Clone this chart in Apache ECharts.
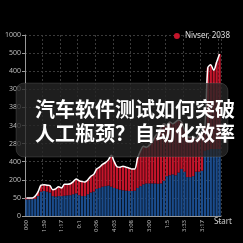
<!DOCTYPE html>
<html>
<head>
<meta charset="utf-8">
<script src="https://cdn.jsdelivr.net/npm/echarts@6/dist/echarts.min.js"></script>
<style>
  html, body { margin: 0; padding: 0; background: #000; }
  #chart { width: 243px; height: 243px; }
</style>
</head>
<body>
<div id="chart"></div>
<script>
// values are in grid steps (one step per y tick)
var blueValues = [
  0.92, 0.92, 0.93, 0.95, 1.1, 1.35, 1.38, 1.35, 1.3, 1.1,
  1.07, 1.1, 1.1, 1.12, 1.14, 1.15, 1.2, 1.25, 1.15, 1.1,
  1.1, 1.2, 1.3, 1.35, 1.5, 1.55, 1.62, 1.65, 1.68, 1.62,
  1.55, 1.5, 1.45, 1.42, 1.4, 1.38, 1.38, 1.4, 1.55, 1.65,
  1.75, 1.8, 1.8, 1.8, 1.8, 1.78, 1.8, 1.95, 2.2, 2.25,
  2.3, 2.25, 2.4, 2.6, 2.45, 2.15, 2.15, 2.2, 2.45, 2.45,
  2.5, 3.6, 3.65, 3.7, 3.7, 3.7, 3.7
];
var totalValues = [
  1.0, 1.0, 1.0, 1.1, 1.35, 1.7, 1.72, 1.7, 1.68, 1.45,
  1.5, 1.62, 1.55, 1.75, 1.75, 1.78, 1.9, 2.04, 1.95, 1.9,
  1.88, 2.0, 2.2, 2.3, 2.6, 2.7, 2.85, 2.95, 3.1, 3.35,
  3.0, 2.72, 2.7, 2.75, 2.7, 2.65, 2.6, 2.6, 3.2, 3.6,
  3.85, 3.8, 3.9, 4.1, 4.4, 4.6, 4.9, 5.1, 5.0, 5.2,
  5.1, 5.2, 5.3, 5.2, 4.8, 4.4, 4.35, 4.4, 4.3, 4.5,
  4.7, 5.0, 8.2, 8.35, 8.05, 8.5, 8.95
];
var redValues = totalValues.map(function (t, i) { return +(t - blueValues[i]).toFixed(2); });
var yLabels = ['0', '50', '200', '400', '280', '340', '380', '300', '400', '500', '1000'];
var xTickLabels = ['000', '1:59', '1:17', '0:1', '0:06', '4:03', '5:08', '3:00', '1:5', '3:33', '3:17', '1'];
var categories = blueValues.map(function (v, i) { return i % 6 === 0 ? xTickLabels[i / 6] : ''; });
var legendName = 'Nivser, 2038';
var titleLines = ['汽车软件测试如何突破', '人工瓶颈？自动化效率'];

var chart = echarts.init(document.getElementById('chart'));
var option = {
  backgroundColor: '#000',
  animation: false,
  grid: { left: 25, right: 22, top: 35, bottom: 27 },
  legend: {
    data: [legendName],
    right: 8, top: 27,
    icon: 'circle', itemWidth: 6, itemHeight: 6, itemGap: 4,
    textStyle: { color: '#ddd', fontSize: 8, fontFamily: 'Noto Sans' }
  },
  xAxis: {
    type: 'category',
    data: categories,
    axisLine: { lineStyle: { color: '#999' } },
    axisTick: { interval: 5, alignWithLabel: true, length: 3, lineStyle: { color: '#999' } },
    axisLabel: {
      interval: 5, rotate: 90, color: '#bbb', fontSize: 6, margin: 4,
      fontFamily: 'Noto Sans'
    },
    splitLine: { show: true, interval: 5, lineStyle: { color: '#3a3a3a', type: [2, 2] } }
  },
  yAxis: {
    type: 'value',
    min: 0, max: 10, interval: 1,
    axisLine: { show: true, lineStyle: { color: '#999' } },
    axisTick: { show: true, length: 3, lineStyle: { color: '#999' } },
    axisLabel: {
      color: '#bbb', fontSize: 7, margin: 4, fontFamily: 'Noto Sans',
      formatter: function (v) { return yLabels[v]; }
    },
    splitLine: { lineStyle: { color: '#3a3a3a', type: [2, 2] } }
  },
  series: [
    {
      name: 'base',
      type: 'bar',
      stack: 'a',
      data: blueValues,
      barCategoryGap: '22%',
      itemStyle: { color: '#1b4c8c' }
    },
    {
      name: legendName,
      type: 'bar',
      stack: 'a',
      data: redValues,
      itemStyle: { color: '#c4152b' }
    },
    {
      name: 'total',
      type: 'line',
      data: totalValues,
      smooth: 0.3,
      symbol: 'none',
      lineStyle: { color: '#fff', width: 1.5 },
      z: 5
    }
  ],
  graphic: [
    {
      type: 'text', left: 214, top: 218, z: 50,
      style: { text: 'Start', fill: '#ccc', font: '8px "Noto Sans"' }
    },
    {
      type: 'rect', z: 100,
      shape: { x: 16, y: 83, width: 212, height: 74, r: 8 },
      style: { fill: 'rgba(38,38,38,0.78)', stroke: 'rgba(255,255,255,0.12)', lineWidth: 1 }
    },
    {
      type: 'text', x: 35, y: 109, z: 101,
      style: {
        text: titleLines[0], fill: '#fff', font: 'bold 20px "Noto Sans CJK SC"',
        verticalAlign: 'middle', shadowColor: 'rgba(0,0,0,0.8)', shadowBlur: 4, shadowOffsetY: 1
      }
    },
    {
      type: 'text', x: 35, y: 133, z: 101,
      style: {
        text: titleLines[1], fill: '#fff', font: 'bold 20px "Noto Sans CJK SC"',
        verticalAlign: 'middle', shadowColor: 'rgba(0,0,0,0.8)', shadowBlur: 4, shadowOffsetY: 1
      }
    }
  ]
};
chart.setOption(option);
</script>
</body>
</html>
